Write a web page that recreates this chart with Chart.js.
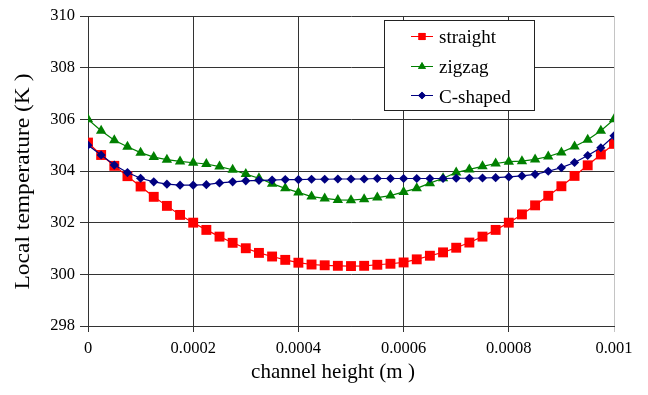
<!DOCTYPE html>
<html>
<head>
<meta charset="utf-8">
<script src="https://cdn.jsdelivr.net/npm/chart.js@4/dist/chart.umd.min.js"></script>
<style>
  html, body { margin: 0; padding: 0; background: #ffffff; }
  #wrap { width: 648px; height: 395px; position: relative; }
</style>
</head>
<body>
<div id="wrap"><canvas id="c" width="648" height="395"></canvas></div>
<script>
// ---- data ----
const channelHeight = [
  0, 0.000025, 0.00005, 0.000075, 0.0001, 0.000125, 0.00015, 0.000175, 0.0002, 0.000225,
  0.00025, 0.000275, 0.0003, 0.000325, 0.00035, 0.000375, 0.0004, 0.000425, 0.00045, 0.000475,
  0.0005, 0.000525, 0.00055, 0.000575, 0.0006, 0.000625, 0.00065, 0.000675, 0.0007, 0.000725,
  0.00075, 0.000775, 0.0008, 0.000825, 0.00085, 0.000875, 0.0009, 0.000925, 0.00095, 0.000975,
  0.001
];
const straight = [
  305.1, 304.62, 304.2, 303.8, 303.4, 303.0, 302.65, 302.3, 302.0, 301.72,
  301.46, 301.22, 301.01, 300.83, 300.69, 300.56, 300.45, 300.38, 300.35, 300.33,
  300.32, 300.33, 300.37, 300.41, 300.46, 300.58, 300.72, 300.85, 301.03, 301.23,
  301.46, 301.72, 302.0, 302.32, 302.67, 303.04, 303.41, 303.81, 304.22, 304.64,
  305.05
];
const zigzag = [
  306.0, 305.56, 305.19, 304.94, 304.71, 304.54, 304.44, 304.37, 304.32, 304.27,
  304.17, 304.05, 303.88, 303.72, 303.51, 303.33, 303.17, 303.01, 302.94, 302.88,
  302.87, 302.91, 302.97, 303.05, 303.19, 303.33, 303.53, 303.72, 303.94, 304.06,
  304.18, 304.29, 304.36, 304.38, 304.45, 304.56, 304.72, 304.95, 305.21, 305.56,
  306.0
];
const cShaped = [
  305.0, 304.62, 304.23, 303.94, 303.72, 303.58, 303.49, 303.45, 303.45, 303.47,
  303.54, 303.58, 303.62, 303.64, 303.65, 303.67, 303.67, 303.68, 303.68, 303.69,
  303.69, 303.69, 303.71, 303.71, 303.71, 303.71, 303.71, 303.71, 303.72, 303.72,
  303.73, 303.74, 303.77, 303.81, 303.87, 303.99, 304.13, 304.33, 304.6, 304.9,
  305.36
];
const seriesNames = ['straight', 'zigzag', 'C-shaped'];
const xTickLabels = ['0', '0.0002', '0.0004', '0.0006', '0.0008', '0.001'];
const yTickLabels = ['298', '300', '302', '304', '306', '308', '310'];
const xTitle = 'channel height (m )';
const yTitle = 'Local temperature (K )';

const SERIF = '"Liberation Serif", "Times New Roman", serif';
const toPts = ys => ys.map((y, i) => ({ x: channelHeight[i], y }));

const styles = [
  { color: '#ff0000', point: 'rect', r: 7, lr: 5 },
  { color: '#008000', point: 'triangle', r: 6, lr: 4.6 },
  { color: '#000080', point: 'rectRot', r: 4.6, lr: 3.8 }
];
const allSeries = [straight, zigzag, cShaped];

const datasets = allSeries.map((ys, k) => ({
  label: seriesNames[k],
  data: toPts(ys),
  borderColor: styles[k].color,
  backgroundColor: styles[k].color,
  borderWidth: 1.2,
  pointStyle: styles[k].point,
  pointRadius: styles[k].r,
  pointHoverRadius: styles[k].r,
  pointBorderWidth: 0,
  pointBackgroundColor: styles[k].color,
  pointBorderColor: styles[k].color,
  tension: 0,
  fill: false,
  order: 2 - k
}));

const overlay = {
  id: 'overlay',
  afterDraw(chart) {
    const ctx = chart.ctx;
    ctx.save();
    // axis titles
    ctx.fillStyle = '#000';
    ctx.font = '21px ' + SERIF;
    ctx.textAlign = 'center';
    ctx.textBaseline = 'middle';
    ctx.fillText(xTitle, 333, 372);
    ctx.save();
    ctx.translate(23, 181.5);
    ctx.rotate(-Math.PI / 2);
    ctx.scale(1.12, 1);
    ctx.fillText(yTitle, 0, 0);
    ctx.restore();
    // legend box
    const bx = 384.5, by = 20.5, bw = 150, bh = 90;
    ctx.fillStyle = '#fff';
    ctx.fillRect(bx, by, bw, bh);
    ctx.strokeStyle = '#222';
    ctx.lineWidth = 1;
    ctx.strokeRect(bx, by, bw, bh);
    const rows = [43.3, 73.3, 102.7];
    ctx.font = '19px ' + SERIF;
    ctx.textAlign = 'left';
    ctx.textBaseline = 'alphabetic';
    seriesNames.forEach((name, k) => {
      const my = rows[k] - 7.5;
      ctx.strokeStyle = styles[k].color;
      ctx.lineWidth = 1;
      ctx.beginPath();
      ctx.moveTo(411, Math.round(my) + 0.5);
      ctx.lineTo(433, Math.round(my) + 0.5);
      ctx.stroke();
      ctx.fillStyle = styles[k].color;
      Chart.helpers.drawPoint(ctx, { pointStyle: styles[k].point, radius: styles[k].lr, borderWidth: 0, rotation: 0 }, 422, Math.round(my) + 0.5);
      ctx.fill();
      ctx.fillStyle = '#000';
      ctx.fillText(name, 439, rows[k]);
    });
    ctx.restore();
  }
};

new Chart(document.getElementById('c'), {
  type: 'line',
  data: { datasets },
  options: {
    responsive: false,
    animation: false,
    events: [],
    layout: { padding: { left: 0, right: 34, top: 16, bottom: 0 } },
    plugins: { legend: { display: false }, tooltip: { enabled: false } },
    scales: {
      x: {
        type: 'linear',
        min: 0,
        max: 0.001,
        afterFit: s => { s.height = 69; },
        afterBuildTicks: s => { s.ticks = xTickLabels.map(t => ({ value: parseFloat(t) })); },
        ticks: {
          color: '#000',
          font: { family: SERIF, size: 16.5 },
          padding: 7,
          maxRotation: 0,
          autoSkip: false,
          callback: (v, i) => xTickLabels[i]
        },
        grid: {
          color: ctx => (ctx.index === xTickLabels.length - 1 ? '#c4c4c4' : '#333'),
          lineWidth: 1,
          tickLength: 6,
          drawTicks: true
        },
        border: { color: '#333', width: 1 }
      },
      y: {
        type: 'linear',
        min: 298,
        max: 310,
        afterFit: s => { s.width = 88; },
        afterBuildTicks: s => { s.ticks = yTickLabels.map(t => ({ value: parseFloat(t) })); },
        ticks: {
          color: '#000',
          font: { family: SERIF, size: 16.5 },
          padding: 5,
          callback: (v, i) => yTickLabels[i]
        },
        grid: { color: '#333', lineWidth: 1, tickLength: 8 },
        border: { color: '#333', width: 1 }
      }
    }
  },
  plugins: [overlay]
});
</script>
</body>
</html>
